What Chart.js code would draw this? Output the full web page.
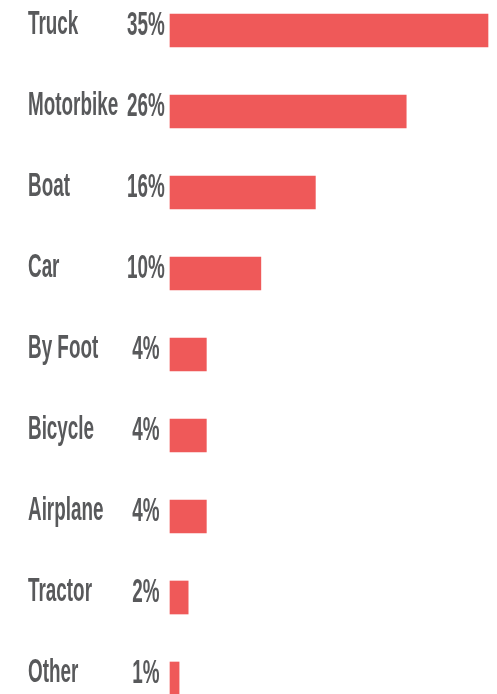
<!DOCTYPE html>
<html>
<head>
<meta charset="utf-8">
<script src="https://cdn.jsdelivr.net/npm/chart.js@4"></script>
<style>
  html, body { margin: 0; padding: 0; background: #fff; }
  #wrap { width: 497px; height: 694px; position: relative; }
</style>
</head>
<body>
<div id="wrap"><canvas id="myChart"></canvas></div>
<script>
var categories = ['Truck', 'Motorbike', 'Boat', 'Car', 'By Foot', 'Bicycle', 'Airplane', 'Tractor', 'Other'];
var shares = [35, 26, 16, 10, 4, 4, 4, 2, 1];
var xMax = 35;

var textColor = '#58595b';
var barColor = '#ef5959';

// labels drawn left of the bars, squeezed horizontally like the original
var sideLabels = {
  id: 'sideLabels',
  afterDatasetsDraw: function (chart) {
    var ctx = chart.ctx;
    var yScale = chart.scales.y;
    ctx.save();
    ctx.font = 'bold 34px "Liberation Sans", Arial, sans-serif';
    ctx.fillStyle = textColor;
    ctx.textBaseline = 'alphabetic';
    var sx = 0.555;
    categories.forEach(function (name, i) {
      var y = yScale.getPixelForValue(i) + 3.5;
      ctx.save();
      ctx.translate(28, y);
      ctx.scale(sx, 1);
      ctx.textAlign = 'left';
      ctx.fillText(name, 0, 0);
      ctx.restore();

      ctx.save();
      ctx.translate(146, y + 1);
      ctx.scale(sx, 1);
      ctx.textAlign = 'center';
      ctx.fillText(shares[i] + '%', 0, 0);
      ctx.restore();
    });
    ctx.restore();
  }
};

var ctx = document.getElementById('myChart').getContext('2d');
var chart = new Chart(ctx, {
  type: 'bar',
  data: {
    labels: categories,
    datasets: [{
      data: shares,
      backgroundColor: barColor,
      barThickness: 33,
      borderWidth: 0,
      clip: false
    }]
  },
  options: {
    indexAxis: 'y',
    responsive: true,
    maintainAspectRatio: false,
    animation: false,
    layout: { padding: { left: 170, right: 9, top: 30.5, bottom: 15.5 } },
    plugins: {
      legend: { display: false },
      tooltip: { enabled: false }
    },
    scales: {
      x: { display: false, min: 0, max: xMax },
      y: { display: false, offset: false }
    }
  },
  plugins: [sideLabels]
});
</script>
</body>
</html>
